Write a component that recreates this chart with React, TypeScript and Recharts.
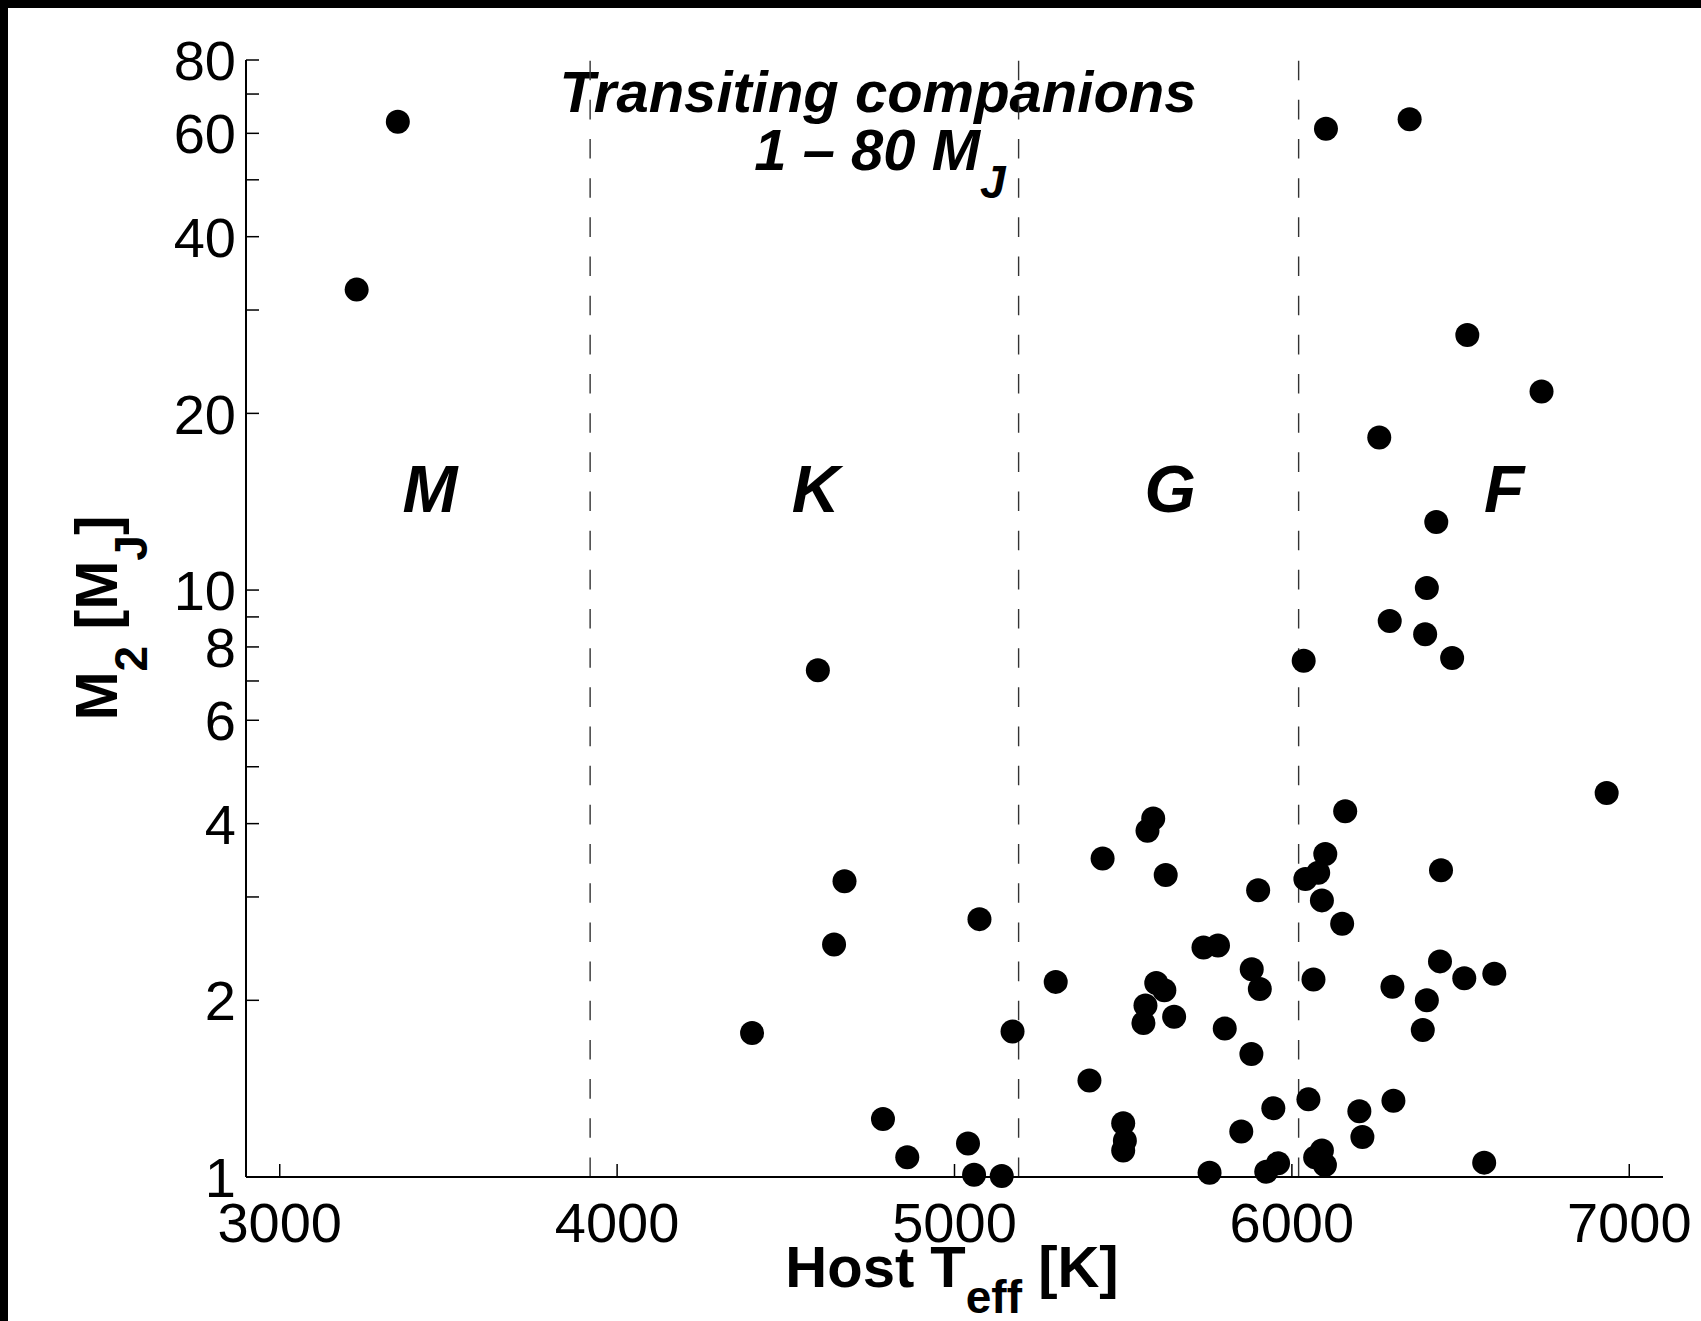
import React from 'react';
import { ScatterChart, Scatter, XAxis, YAxis, ReferenceLine, Customized } from 'recharts';

// Host effective temperature [K]
const teff = [
  3350, 3228, 6101, 6349, 6520, 6740, 6259, 6428, 6400, 6290,
  6395, 6475, 6035, 4595, 6933, 6158, 5589, 5572, 5439, 6099,
  6078, 6040, 6442, 5626, 4674, 5900, 6089, 5074, 6149, 4643,
  5738, 5781, 6439, 5881, 6600, 6511, 6064, 5300, 5598, 5622,
  6298, 5905, 6400, 5566, 5651, 5560, 5801, 6388, 4400, 5172,
  5880, 5400, 6049, 6301, 5945, 6200, 4788, 5500, 5505, 5500,
  5850, 6209, 5040, 4860, 6089, 6069, 6098, 6570, 5959, 5924,
  5756, 5058, 5140,
];
// Companion mass M2 [M_J]
const mass = [
  62.8, 32.5, 61.1, 63.4, 27.2, 21.8, 18.2, 13.06, 10.08, 8.86,
  8.41, 7.66, 7.58, 7.3, 4.51, 4.2, 4.08, 3.89, 3.49, 3.55,
  3.3, 3.22, 3.33, 3.27, 3.19, 3.08, 2.96, 2.75, 2.7, 2.49,
  2.46, 2.48, 2.33, 2.26, 2.22, 2.18, 2.17, 2.15, 2.14, 2.08,
  2.11, 2.09, 2.0, 1.96, 1.875, 1.83, 1.79, 1.78, 1.76, 1.77,
  1.62, 1.46, 1.356, 1.349, 1.31, 1.294, 1.256, 1.235, 1.153, 1.11,
  1.195, 1.17, 1.14, 1.081, 1.11, 1.08, 1.048, 1.058, 1.055, 1.021,
  1.017, 1.009, 1.004,
];

const xDomain = [2900, 7100];
const yDomain = [1, 80];
const xTicks = [3000, 4000, 5000, 6000, 7000];
const yTicks = [1, 2, 3, 4, 5, 6, 7, 8, 9, 10, 20, 30, 40, 50, 60, 70, 80];
const yTickLabels = [1, 2, 4, 6, 8, 10, 20, 40, 60, 80];
const classBoundaries = [3920, 5190, 6020];
const classLabels = ['M', 'K', 'G', 'F'];
const classLabelTeff = [3445, 4588, 5639, 6629];
const classLabelMass = [13.6, 13.6, 13.6, 13.6];

const points = teff.map((t, i) => ({ x: t, y: mass[i] }));
const classPoints = classLabels.map((l, i) => ({ x: classLabelTeff[i], y: classLabelMass[i], label: l }));

const FONT = '"Liberation Sans", Arial, Helvetica, sans-serif';
const TICK_LEN = 13;

function BottomTick(props: any) {
  const { x, y, payload } = props;
  return (
    <g>
      <line x1={x} y1={y} x2={x} y2={y - TICK_LEN} stroke="#000" strokeWidth={1.5} />
      <text x={x} y={y + 65} textAnchor="middle" fontSize={56} fontFamily={FONT} fill="#000">
        {payload.value}
      </text>
    </g>
  );
}

function TopTick(props: any) {
  const { x, y } = props;
  return <line x1={x} y1={y} x2={x} y2={y + TICK_LEN} stroke="#000" strokeWidth={1.5} />;
}

function LeftTick(props: any) {
  const { x, y, payload } = props;
  const show = yTickLabels.includes(payload.value);
  return (
    <g>
      <line x1={x} y1={y} x2={x + TICK_LEN} y2={y} stroke="#000" strokeWidth={1.5} />
      {show && (
        <text x={x - 10} y={y} dy="0.36em" textAnchor="end" fontSize={56} fontFamily={FONT} fill="#000">
          {payload.value}
        </text>
      )}
    </g>
  );
}

function RightTick(props: any) {
  const { x, y } = props;
  return <line x1={x} y1={y} x2={x - TICK_LEN} y2={y} stroke="#000" strokeWidth={1.5} />;
}

function Dot(p: any) {
  return <circle cx={p.cx} cy={p.cy} r={12} fill="#000" />;
}

function ClassLabel(p: any) {
  return (
    <text
      x={p.cx}
      y={p.cy}
      textAnchor="middle"
      fontSize={66}
      fontWeight="bold"
      fontStyle="italic"
      fontFamily={FONT}
      fill="#000"
    >
      {p.payload.label}
    </text>
  );
}

function Annotations() {
  return (
    <g fontFamily={FONT} fill="#000">
      <text x={870} y={104} textAnchor="middle" fontSize={58} fontWeight="bold" fontStyle="italic">
        Transiting companions
      </text>
      <text x={872} y={162} textAnchor="middle" fontSize={58} fontWeight="bold" fontStyle="italic">
        1 – 80 M
        <tspan fontSize={46} dy={28}>J</tspan>
      </text>
      <text x={944} y={1279} textAnchor="middle" fontSize={58} fontWeight="bold">
        Host T
        <tspan fontSize={46} dy={26}>eff</tspan>
        <tspan dy={-26}> [K]</tspan>
      </text>
      <text
        transform="translate(109,610) rotate(-90)"
        x={0}
        y={0}
        textAnchor="middle"
        fontSize={59}
        fontWeight="bold"
      >
        M
        <tspan fontSize={46} dy={30}>2</tspan>
        <tspan dy={-30}> [M</tspan>
        <tspan fontSize={46} dy={30}>J</tspan>
        <tspan dy={-30}>]</tspan>
      </text>
    </g>
  );
}

export default function App() {
  return (
    <div
      style={{
        position: 'fixed',
        top: 0,
        left: 0,
        width: 1701,
        height: 1321,
        background: '#000',
        paddingTop: 8,
        paddingLeft: 8,
        boxSizing: 'border-box',
      }}
    >
      <div style={{ width: 1693, height: 1313, background: '#fff' }}>
        <ScatterChart width={1693} height={1313} margin={{ top: 52, right: 38, bottom: 0, left: 0 }}>
          <XAxis
            xAxisId="b"
            dataKey="x"
            type="number"
            domain={xDomain}
            ticks={xTicks}
            interval={0}
            height={144}
            tickSize={0}
            tickMargin={0}
            tickLine={false}
            axisLine={{ stroke: '#000', strokeWidth: 2 }}
            tick={<BottomTick />}
          />
          <XAxis
            xAxisId="t"
            orientation="top"
            type="number"
            domain={xDomain}
            allowDataOverflow
            ticks={xTicks}
            interval={0}
            height={0}
            tickSize={0}
            tickMargin={0}
            tickLine={false}
            axisLine={{ stroke: '#000', strokeWidth: 2 }}
            tick={<TopTick />}
          />
          <YAxis
            yAxisId="l"
            dataKey="y"
            type="number"
            scale="log"
            domain={yDomain}
            ticks={yTicks}
            interval={0}
            width={238}
            tickSize={0}
            tickMargin={0}
            tickLine={false}
            axisLine={{ stroke: '#000', strokeWidth: 2 }}
            tick={<LeftTick />}
          />
          <YAxis
            yAxisId="r"
            orientation="right"
            type="number"
            scale="log"
            domain={yDomain}
            allowDataOverflow
            ticks={yTicks}
            interval={0}
            width={0}
            tickSize={0}
            tickMargin={0}
            tickLine={false}
            axisLine={{ stroke: '#000', strokeWidth: 2 }}
            tick={<RightTick />}
          />
          {classBoundaries.map((b) => (
            <ReferenceLine
              key={b}
              x={b}
              xAxisId="b"
              yAxisId="l"
              stroke="#333"
              strokeWidth={1.4}
              strokeDasharray="19.6 19.57"
            />
          ))}
          <Scatter
            data={classPoints}
            xAxisId="b"
            yAxisId="l"
            shape={ClassLabel}
            isAnimationActive={false}
          />
          <Scatter data={points} xAxisId="b" yAxisId="l" shape={Dot} isAnimationActive={false} />
          <Customized component={Annotations} />
        </ScatterChart>
      </div>
    </div>
  );
}
